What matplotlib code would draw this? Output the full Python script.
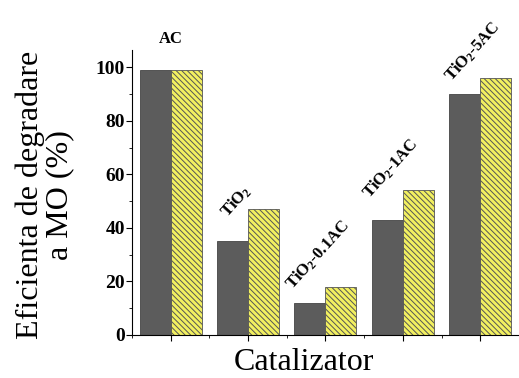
import numpy as np
import matplotlib.pyplot as plt
from matplotlib.ticker import MultipleLocator

# Data
catalysts = ["AC", "TiO$_2$", "TiO$_2$-0.1AC", "TiO$_2$-1AC", "TiO$_2$-5AC"]
dark_vals = [99, 35, 12, 43, 90]
light_vals = [99, 47, 18, 54, 96]

plt.rcParams['font.family'] = ['Liberation Serif', 'DejaVu Serif']
plt.rcParams['mathtext.fontset'] = 'custom'
plt.rcParams['mathtext.rm'] = 'Liberation Serif:bold'
plt.rcParams['mathtext.it'] = 'Liberation Serif:bold'
plt.rcParams['hatch.color'] = '#555555'
plt.rcParams['hatch.linewidth'] = 0.7

fig = plt.figure(figsize=(5.19, 3.78), dpi=100)
ax = fig.add_axes([0.254, 0.114, 0.746, 0.754])

x = np.arange(len(catalysts))
w = 0.4
ax.bar(x - w/2, dark_vals, w, color="#5c5c5c", edgecolor="#444444", linewidth=0.6)
ax.bar(x + w/2, light_vals, w, color="#f2f060", edgecolor="#555555",
       linewidth=0.6, hatch="\\\\\\\\\\\\")

ax.set_xlim(-0.5, 4.5)
ax.set_ylim(0, 106.5)
ax.set_xticks(x)
ax.set_xticklabels([])
ax.xaxis.set_minor_locator(MultipleLocator(0.5))
ax.yaxis.set_major_locator(MultipleLocator(20))
ax.yaxis.set_minor_locator(MultipleLocator(10))
ax.tick_params(axis='y', which='major', length=4, width=0.8, labelsize=14, pad=1)
ax.tick_params(axis='y', which='minor', length=2, width=0.6)
ax.tick_params(axis='x', which='major', length=4, width=0.8)
ax.tick_params(axis='x', which='minor', length=2, width=0.6)
for lab in ax.get_yticklabels():
    lab.set_fontweight('bold')
ax.spines['top'].set_visible(False)
ax.spines['right'].set_visible(False)

# Category labels above bars
ax.text(0, 107.5, catalysts[0], ha='center', va='bottom', fontsize=12,
        fontweight='bold', clip_on=False)
label_pos = [(1, 0.85, 50), (2, 1.9, 30), (3, 2.85, 62), (4, 3.9, 106)]
for i, xp, y in label_pos:
    ax.text(xp, y, catalysts[i], ha='center', va='center', fontsize=12,
            fontweight='bold', rotation=48, clip_on=False)

fig.text(0.087, 0.485, "Eficienta de degradare\na MO (%)", rotation=90,
         ha='center', va='center', fontsize=23, linespacing=1.0)
fig.text(0.585, 0.04, "Catalizator", ha='center', va='center', fontsize=23)

fig.savefig("out.png", dpi=100)
